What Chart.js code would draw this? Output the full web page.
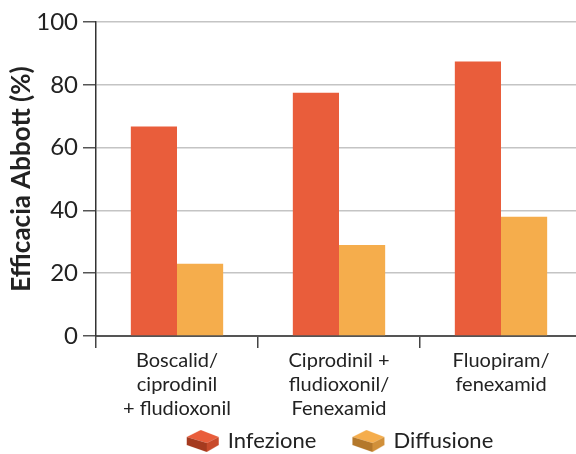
<!DOCTYPE html>
<html>
<head>
<meta charset="utf-8">
<script src="https://cdn.jsdelivr.net/npm/chart.js@4"></script>
<style>
  html, body { margin: 0; padding: 0; background: #fff; overflow: hidden; }
  #wrap { width: 582px; height: 454px; }
</style>
</head>
<body>
<div id="wrap"><canvas id="chart1"></canvas></div>
<script>
// data
const categories = [
    ['Boscalid/', 'ciprodinil', '+ fludioxonil'],
    ['Ciprodinil +', 'fludioxonil/', 'Fenexamid'],
    ['Fluopiram/', 'fenexamid']
];
const infezione = [66.7, 77.5, 87.4];
const diffusione = [23, 29, 38];
const yTicks = [0, 20, 40, 60, 80, 100];

const FONT = 'Lato, "Open Sans", sans-serif';

// little 3D brick used in the legend
function brick(top, front, side) {
    const c = document.createElement('canvas');
    c.width = 36; c.height = 24;
    const g = c.getContext('2d');
    // top face
    g.fillStyle = top;
    g.beginPath();
    g.moveTo(2, 8); g.lineTo(16, 1); g.lineTo(34, 8); g.lineTo(22, 14); g.closePath(); g.fill();
    // front face
    g.fillStyle = front;
    g.beginPath();
    g.moveTo(2, 8); g.lineTo(22, 14); g.lineTo(22, 23); g.lineTo(2, 16); g.closePath(); g.fill();
    // side face
    g.fillStyle = side;
    g.beginPath();
    g.moveTo(22, 14); g.lineTo(34, 8); g.lineTo(34, 16); g.lineTo(22, 23); g.closePath(); g.fill();
    return c;
}

const legendItems = [
    { text: 'Infezione', icon: brick('#E95D3B', '#A53A1F', '#C84A2B') },
    { text: 'Diffusione', icon: brick('#F5AD4C', '#B4782B', '#D1903A') }
];

const bottomLegend = {
    id: 'bottomLegend',
    afterDraw(chart) {
        const ctx = chart.ctx;
        const a = chart.chartArea;
        ctx.save();
        ctx.font = '22px ' + FONT;
        ctx.fillStyle = '#222';
        ctx.textBaseline = 'middle';
        const gap = 34, iconW = 36, pad = 7;
        let total = 0;
        legendItems.forEach((it, i) => {
            total += iconW + pad + ctx.measureText(it.text).width + (i ? gap : 0);
        });
        let x = (a.left + a.right) / 2 - total / 2;
        const y = 441;
        legendItems.forEach(it => {
            ctx.drawImage(it.icon, x, y - 12);
            x += iconW + pad;
            ctx.fillText(it.text, x, y);
            x += ctx.measureText(it.text).width + gap;
        });
        ctx.restore();
    }
};

const ctx1 = document.getElementById('chart1').getContext('2d');
new Chart(ctx1, {
    type: 'bar',
    data: {
        labels: categories,
        datasets: [{
            label: 'Infezione',
            data: infezione,
            backgroundColor: '#E95D3B',
            categoryPercentage: 0.57,
            barPercentage: 1
        }, {
            label: 'Diffusione',
            data: diffusione,
            backgroundColor: '#F5AD4C',
            categoryPercentage: 0.57,
            barPercentage: 1
        }]
    },
    options: {
        responsive: true,
        maintainAspectRatio: false,
        animation: false,
        layout: { padding: { top: 22, right: 0, bottom: 0, left: 0 } },
        plugins: {
            legend: { display: false },
            tooltip: { enabled: false }
        },
        scales: {
            x: {
                offset: true,
                afterFit: function(s) { s.height = 118; },
                grid: {
                    offset: true,
                    drawOnChartArea: false,
                    drawTicks: true,
                    tickLength: 12,
                    color: '#444',
                    lineWidth: 1.5
                },
                border: { color: '#555', width: 2 },
                ticks: {
                    color: '#222',
                    font: { family: FONT, size: 20, lineHeight: 1.22 },
                    padding: 0,
                    autoSkip: false,
                    maxRotation: 0
                }
            },
            y: {
                min: 0,
                max: 100,
                afterFit: function(s) { s.width = 96; },
                afterBuildTicks: function(s) { s.ticks = yTicks.map(v => ({ value: v })); },
                grid: {
                    color: '#c4c4c4',
                    lineWidth: 1.5,
                    tickLength: 13,
                    tickColor: '#555'
                },
                border: { color: '#333', width: 1.5 },
                ticks: {
                    color: '#222',
                    font: { family: FONT, size: 24 },
                    padding: 5
                },
                title: {
                    display: true,
                    text: 'Efficacia Abbott (%)',
                    color: '#222',
                    font: { family: FONT, size: 26, weight: 'bold' },
                    padding: { top: 6, bottom: 6 }
                }
            }
        }
    },
    plugins: [bottomLegend]
});
</script>
</body>
</html>
